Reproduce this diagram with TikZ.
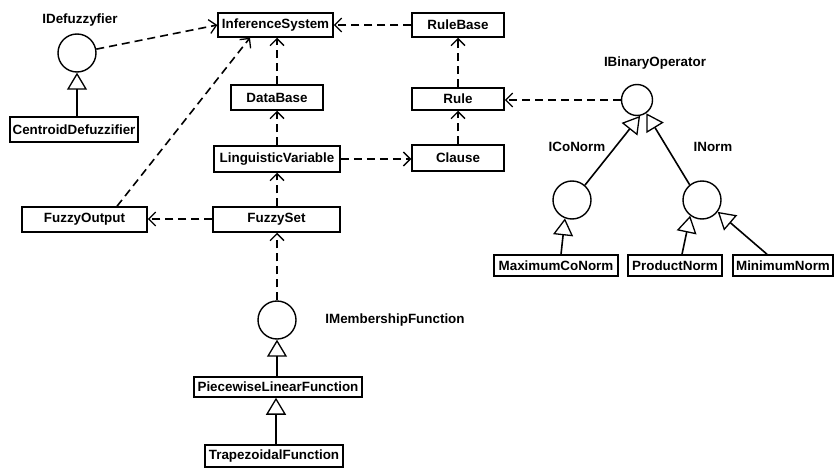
\documentclass[tikz,border=0pt]{standalone}
\usepackage{fontspec}
\setmainfont{Liberation Sans}
\usetikzlibrary{arrows.meta}
\begin{document}
\begin{tikzpicture}[x=1pt,y=-1pt,
  every node/.style={font=\fontsize{13.4}{15}\selectfont\bfseries},
  cls/.style={draw,line width=1.5pt,inner sep=1pt,minimum width=#1},
  iface/.style={draw,circle,line width=1.4pt,minimum size=38pt,inner sep=0pt},
  lbl/.style={inner sep=0pt},
  dep/.style={line width=1.6pt,dash pattern=on 8pt off 5pt,-{Straight Barb[length=7pt,width=14pt,line width=1.3pt]}},
  gen/.style={line width=1.6pt,-{Triangle[open,length=17pt,width=20pt,line width=1.3pt]}}
]
\useasboundingbox (0,0) rectangle (837,468);
\fill[white] (0,0) rectangle (837,468);

% classes
\node[cls=115pt,minimum height=24pt] (inf) at (275.5,25) {InferenceSystem};
\node[cls=92pt,minimum height=24pt] (rb) at (458,25) {RuleBase};
\node[cls=92pt,minimum height=25pt] (db) at (277,97.5) {DataBase};
\node[cls=92pt,minimum height=22pt] (rule) at (458,99) {Rule};
\node[cls=126pt,minimum height=26pt] (lv) at (277,159) {LinguisticVariable};
\node[cls=92pt,minimum height=26pt] (cl) at (458,158) {Clause};
\node[cls=125pt,minimum height=25pt] (fo) at (84.5,219.5) {FuzzyOutput};
\node[cls=127pt,minimum height=25pt] (fs) at (276.5,219.5) {FuzzySet};
\node[cls=128pt,minimum height=25pt] (cd) at (74,129.5) {CentroidDefuzzifier};
\node[cls=124pt,minimum height=21pt] (max) at (556,265.5) {MaximumCoNorm};
\node[cls=94pt,minimum height=21pt] (prod) at (675,265.5) {ProductNorm};
\node[cls=100pt,minimum height=21pt] (min) at (783,265.5) {MinimumNorm};
\node[cls=168pt,minimum height=20pt] (pw) at (278,387) {PiecewiseLinearFunction};
\node[cls=138pt,minimum height=22pt] (trap) at (274,456) {TrapezoidalFunction};

% interfaces
\node[iface] (idef) at (77,53) {};
\node[iface,minimum size=31pt] (ib) at (637,100) {};
\node[iface] (icn) at (572,200) {};
\node[iface] (inorm) at (702,200) {};
\node[iface] (imem) at (277,320) {};

% interface labels
\node[lbl] (idefl) at (80,20) {IDefuzzyfier};
\node[lbl] (ibl) at (655,63) {IBinaryOperator};
\node[lbl] (icnl) at (577,147) {ICoNorm};
\node[lbl] (inorml) at (713,147) {INorm};
\node[lbl] (imeml) at (395,320) {IMembershipFunction};

% dependencies
\draw[dep] (idef) -- (inf.west);
\draw[dep] (rb.west) -- (inf.east);
\draw[dep] (db.north) -- (db.north |- inf.south);
\draw[dep] (lv.north) -- (lv.north |- db.south);
\draw[dep] ([xshift=0.5pt]fs.north) -- ([xshift=0.5pt]fs.north |- lv.south);
\draw[dep] ([yshift=0.5pt]fs.west) -- ([yshift=0.5pt]fs.west -| fo.east);
\draw[dep] ([xshift=32.5pt]fo.north) -- ([xshift=-25.5pt]inf.south);
\draw[dep] (lv.east) -- (lv.east -| cl.west);
\draw[dep] (cl.north) -- (rule.south);
\draw[dep] (rule.north) -- (rb.south);
\draw[dep] (ib.west) -- (ib.west -| rule.east);
\draw[dep] (imem.north) -- (imem.north |- fs.south);

% generalizations
\draw[gen] (cd.north -| idef.south) -- (idef.south);
\draw[gen] (pw.north -| imem.south) -- (imem.south);
\draw[gen] ([xshift=2pt]trap.north) -- ([xshift=2pt]trap.north |- pw.south);
\draw[gen] (icn.49) -- (ib.281);
\draw[gen] (inorm.129) -- (ib.305);
\draw[gen] ([xshift=5pt]max.north) -- (icn.249);
\draw[gen] ([xshift=7pt]prod.north) -- (inorm.233);
\draw[gen] ([xshift=-16pt]min.north) -- (inorm.323);
\end{tikzpicture}
\end{document}
